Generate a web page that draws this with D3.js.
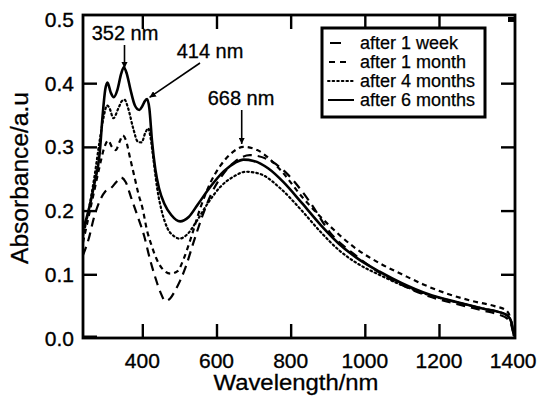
<!DOCTYPE html>
<html><head><meta charset="utf-8">
<script src="https://cdn.jsdelivr.net/npm/d3@7"></script>
<style>
html,body{margin:0;padding:0;background:#fff;}
svg{display:block;}
text{font-family:"Liberation Sans",Arial,Helvetica,sans-serif;fill:#000;}
</style></head>
<body><svg id="c" width="538" height="396"></svg>
<script>
// ---- data ----
const xTicks = [400, 600, 800, 1000, 1200, 1400];
const yTicks = [0.0, 0.1, 0.2, 0.3, 0.4, 0.5];
const seriesNames = ["after 1 week", "after 1 month", "after 4 months", "after 6 months"];

const week1Nm  = [240,255,270,285,300,315,330,342,355,370,388,405,420,435,450,462,475,489,502,516,538,561,585,615,650,690,740,790,850,907,970,1041,1100,1170,1250,1320,1360,1385,1395,1402];
const week1Abs = [0.13,0.155,0.19,0.215,0.23,0.235,0.245,0.252,0.245,0.22,0.19,0.16,0.125,0.095,0.07,0.058,0.062,0.075,0.09,0.11,0.15,0.19,0.225,0.255,0.277,0.287,0.28,0.258,0.215,0.165,0.132,0.102,0.083,0.066,0.053,0.043,0.037,0.03,0.02,0.004];

const month1Nm  = [240,255,270,285,298,308,318,328,340,347,356,366,378,390,400,413,425,440,455,476,495,512,530,557,583,610,640,673,710,772,830,907,970,1041,1100,1158,1220,1290,1350,1380,1393,1402];
const month1Abs = [0.15,0.19,0.23,0.27,0.30,0.31,0.30,0.295,0.31,0.318,0.31,0.285,0.255,0.225,0.205,0.168,0.145,0.122,0.108,0.101,0.105,0.125,0.155,0.205,0.243,0.27,0.29,0.300,0.295,0.264,0.222,0.175,0.143,0.117,0.1,0.084,0.07,0.058,0.05,0.044,0.03,0.004];

const month4Nm  = [240,255,270,285,295,305,312,322,335,345,352,362,375,388,398,408,416,422,430,440,452,468,485,500,520,545,575,610,645,680,720,772,830,880,930,980,1040,1100,1170,1250,1320,1360,1385,1395,1402];
const month4Abs = [0.16,0.20,0.25,0.31,0.345,0.365,0.36,0.345,0.36,0.372,0.374,0.36,0.33,0.308,0.307,0.322,0.329,0.315,0.28,0.235,0.2,0.172,0.16,0.156,0.162,0.182,0.21,0.237,0.253,0.261,0.257,0.235,0.2,0.167,0.138,0.117,0.099,0.083,0.068,0.056,0.046,0.041,0.035,0.025,0.004];

const month6Nm  = [240,255,270,285,293,300,306,315,323,333,343,350,358,368,380,392,400,407,413,419,426,435,445,460,478,502,525,550,583,620,650,673,700,740,780,830,880,930,980,1040,1100,1170,1250,1320,1360,1385,1395,1402];
const month6Abs = [0.17,0.20,0.24,0.29,0.35,0.39,0.401,0.385,0.378,0.39,0.415,0.425,0.415,0.39,0.365,0.358,0.364,0.372,0.375,0.36,0.31,0.265,0.235,0.21,0.193,0.183,0.19,0.21,0.237,0.262,0.275,0.280,0.278,0.266,0.245,0.212,0.178,0.148,0.125,0.104,0.086,0.069,0.056,0.046,0.041,0.035,0.025,0.004];

const peakLabels = ["352 nm", "414 nm", "668 nm"];
const peakNm  = [352, 414, 668];

// ---- drawing ----
const svg = d3.select("#c");
const X0 = 83, X1 = 515, Y0 = 338, Y1 = 15;
const x = d3.scaleLinear().domain([240, 1405]).range([X0, X1]);
const y = d3.scaleLinear().domain([0, 0.507]).range([Y0, Y1]);

const dashes = ["9,6", "5,4", "1.6,3", null];
const widths = [2.2, 2.2, 2.2, 2.6];
const series = [
  {nm: week1Nm, v: week1Abs},
  {nm: month1Nm, v: month1Abs},
  {nm: month4Nm, v: month4Abs},
  {nm: month6Nm, v: month6Abs}
];

const line = d3.line().x(d => x(d[0])).y(d => y(d[1])).curve(d3.curveMonotoneX);

svg.append("clipPath").attr("id","pc").append("rect")
  .attr("x", X0).attr("y", Y1).attr("width", X1-X0).attr("height", Y0-Y1+2);

const g = svg.append("g").attr("clip-path","url(#pc)");
series.forEach((s, i) => {
  const pts = s.nm.map((n, k) => [n, s.v[k]]);
  g.append("path").attr("d", line(pts)).attr("fill","none").attr("stroke","#000")
    .attr("stroke-width", widths[i]).attr("stroke-linecap", i===2 ? "round" : "butt")
    .attr("stroke-linejoin","round")
    .attr("stroke-dasharray", dashes[i]);
});

// axes (ticks inward)
const tickLen = 14;
const xIn = xTicks.filter(t => t < 1400);
const axB = d3.axisBottom(x).tickValues(xIn).tickSize(-tickLen).tickFormat("");
const axT = d3.axisTop(x).tickValues(xIn).tickSize(-tickLen).tickFormat("");
const yIn = yTicks.filter(t => t > 0 && t < 0.5);
const axL = d3.axisLeft(y).tickValues(yIn).tickSize(-tickLen).tickFormat("");
const axR = d3.axisRight(y).tickValues(yIn).tickSize(-tickLen).tickFormat("");
[[axB,`translate(0,${Y0})`],[axT,`translate(0,${Y1})`],[axL,`translate(${X0},0)`],[axR,`translate(${X1},0)`]].forEach(([a,t]) => {
  const gg = svg.append("g").attr("transform", t).call(a);
  gg.select(".domain").remove();
  gg.selectAll(".tick line").attr("stroke","#000").attr("stroke-width",2.4);
});
// thick corner marks
svg.append("line").attr("x1", X1-7).attr("x2", X1).attr("y1", y(0.5)).attr("y2", y(0.5))
  .attr("stroke","#000").attr("stroke-width",5);
svg.append("line").attr("x1", X0).attr("x2", X0+14).attr("y1", Y0-1).attr("y2", Y0-1)
  .attr("stroke","#000").attr("stroke-width",3);

// frame
svg.append("rect").attr("x", X0).attr("y", Y1).attr("width", X1-X0).attr("height", Y0-Y1)
  .attr("fill","none").attr("stroke","#000").attr("stroke-width",2.8);

// tick labels
const labStyle = sel => sel.attr("font-size", 21).attr("stroke","#000").attr("stroke-width",0.35);
svg.append("g").selectAll("text").data(xTicks).join("text")
  .attr("x", d => x(d)).attr("y", 368).attr("text-anchor","middle")
  .text(d => d).call(labStyle);
svg.append("g").selectAll("text").data(yTicks).join("text")
  .attr("x", 74).attr("y", d => y(d) + 7.5).attr("text-anchor","end")
  .text(d => d.toFixed(1)).call(labStyle);

// axis titles
svg.append("text").attr("x", 296).attr("y", 390).attr("text-anchor","middle")
  .attr("font-size", 22).attr("textLength",165).attr("lengthAdjust","spacingAndGlyphs")
  .attr("stroke","#000").attr("stroke-width",0.3).text("Wavelength/nm");
svg.append("text").attr("transform","translate(28,178) rotate(-90)").attr("text-anchor","middle")
  .attr("font-size", 23).attr("textLength",172).attr("lengthAdjust","spacingAndGlyphs")
  .attr("stroke","#000").attr("stroke-width",0.3).text("Absorbance/a.u");

// peak annotations
const annot = [
  {tx: 125, ty: 40, anchor:"middle", from:[124.5, 45], toY: 0.422},
  {tx: 210, ty: 58, anchor:"middle", from:[200, 63], toY: 0.376},
  {tx: 241, ty: 105, anchor:"middle", from:[x(peakNm[2]), 110], toY: 0.303}
];
svg.append("defs").append("marker").attr("id","ah").attr("viewBox","0 0 10 10")
  .attr("refX",10).attr("refY",5).attr("markerWidth",4).attr("markerHeight",4)
  .attr("orient","auto").append("path").attr("d","M0,0L10,5L0,10z").attr("fill","#000");
annot.forEach((a, i) => {
  svg.append("text").attr("x", a.tx).attr("y", a.ty).attr("text-anchor", a.anchor)
    .attr("font-size", 20).attr("stroke","#000").attr("stroke-width",0.3).text(peakLabels[i]);
  const tx = i === 0 ? a.from[0] : x(peakNm[i]) + (i===1 ? 2 : 0);
  svg.append("line").attr("x1", a.from[0]).attr("y1", a.from[1])
    .attr("x2", tx).attr("y2", y(a.toY) - 1)
    .attr("stroke","#000").attr("stroke-width",1.6).attr("marker-end","url(#ah)");
});

// legend
const lg = svg.append("g");
lg.append("rect").attr("x", 322).attr("y", 28).attr("width", 163).attr("height", 89)
  .attr("fill","#fff").attr("stroke","#000").attr("stroke-width",3);
const legSym = [[330,341],[329,346],[328,354],[328,354]];
seriesNames.forEach((n, i) => {
  const yy = 43 + i*19;
  lg.append("line").attr("x1", legSym[i][0]).attr("x2", legSym[i][1]).attr("y1", yy).attr("y2", yy)
    .attr("stroke","#000").attr("stroke-width",2).attr("stroke-dasharray", i===0 ? null : (i===1 ? "6,5" : dashes[i]))
    .attr("stroke-linecap", i===2 ? "round":"butt");
  lg.append("text").attr("x", 360).attr("y", yy + 6).attr("font-size", 18)
    .attr("stroke","#000").attr("stroke-width",0.25).text(n);
});
</script></body></html>
